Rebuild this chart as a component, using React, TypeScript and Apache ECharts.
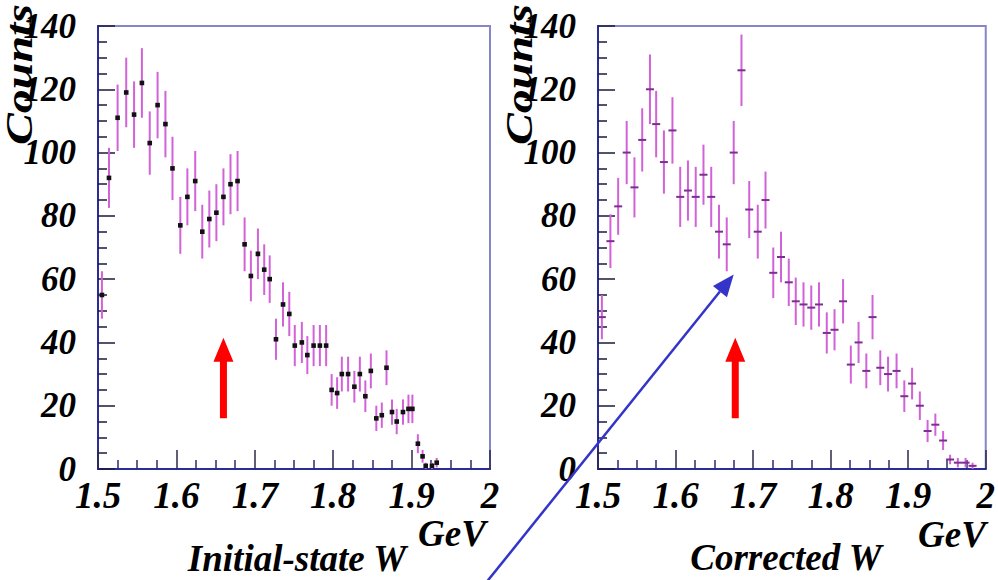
import React, { useEffect, useRef } from "react";
import * as echarts from "echarts";

// Axis tick labels
const X_TICK_LABELS = ["1.5", "1.6", "1.7", "1.8", "1.9", "2"];
const X_MIN = 1.5;
const X_MAX = 2.0;
const X_STEP = 0.1;
const Y_MIN = 0;
const Y_MAX = 140;
const Y_STEP = 20;

// Initial-state W spectrum (GeV, counts, stat. error)
const initialW = [
  1.505, 1.514, 1.525, 1.536, 1.546, 1.556, 1.566, 1.576, 1.586, 1.595,
  1.605, 1.614, 1.624, 1.633, 1.642, 1.651, 1.66, 1.669, 1.678, 1.687,
  1.695, 1.704, 1.712, 1.719, 1.727, 1.736, 1.744, 1.751, 1.76, 1.767,
  1.775, 1.783, 1.791, 1.798, 1.805, 1.811, 1.819, 1.827, 1.834, 1.841,
  1.848, 1.855, 1.862, 1.868, 1.875, 1.881, 1.889, 1.896, 1.901, 1.908,
  1.914, 1.918, 1.926, 1.932,
];
const initialCounts = [
  55, 92, 111, 119, 112, 122, 103, 115, 109, 95,
  77, 86, 91, 75, 79, 81, 86, 90, 91, 71,
  61, 68, 63, 60, 41, 52, 49, 39, 40, 36,
  39, 39, 39, 25, 24, 30, 30, 26, 30, 23,
  31, 16, 17, 32, 18, 15, 18, 19, 19, 8,
  4, 1, 1, 2,
];
const initialErr = [
  7.5, 9.5, 10.5, 11, 10.5, 11, 10, 10.5, 10.5, 10,
  9, 9, 9.5, 8.5, 9, 9, 9, 9.5, 9.5, 8.5,
  8, 8, 8, 7.5, 6.5, 7, 7, 6.5, 6.5, 6,
  6.5, 6.5, 6.5, 5, 5, 5.5, 5.5, 5, 5.5, 5,
  5.5, 4, 4, 5.5, 4, 4, 4, 4.5, 4.5, 3,
  2, 1, 1, 1.5,
];

// Corrected W spectrum (GeV, counts, stat. error)
const correctedW = [
  1.505, 1.516, 1.526, 1.537, 1.547, 1.557, 1.567, 1.575, 1.585, 1.596,
  1.606, 1.616, 1.626, 1.636, 1.646, 1.656, 1.666, 1.675, 1.685, 1.695,
  1.706, 1.716, 1.726, 1.736, 1.746, 1.755, 1.765, 1.775, 1.785, 1.795,
  1.805, 1.816, 1.826, 1.836, 1.846, 1.854, 1.864, 1.874, 1.885, 1.895,
  1.905, 1.915, 1.925, 1.935, 1.945, 1.954, 1.964, 1.974, 1.983,
];
const correctedCounts = [
  48, 72, 83, 100, 89, 104, 120, 109, 97, 107,
  86, 88, 86, 93, 86, 75, 71, 100, 126, 82,
  75, 85, 62, 67, 59, 53, 52, 51, 52, 43,
  44, 53, 33, 40, 31, 48, 32, 30, 31, 23,
  27, 20, 12, 14, 9, 3, 2, 2, 1,
];
const correctedErr = [
  7, 8.5, 9, 10, 9.5, 10, 11, 10.5, 10, 10.5,
  9.5, 9.5, 9.5, 9.5, 9.5, 8.5, 8.5, 10, 11.3, 9,
  8.5, 9, 8, 8, 7.5, 7.5, 7, 7, 7, 6.5,
  6.5, 7, 6, 6.5, 5.5, 7, 5.5, 5.5, 5.5, 5,
  5, 4.5, 3.5, 3.5, 3, 1.5, 1.5, 1.5, 1,
];

// Red arrows marking the W region of interest (GeV; counts of tail and tip)
const redArrowW = [1.66, 1.677];
const redArrowTail = 16;
const redArrowTip = 41.5;

// Blue pointer ends on the dip of the corrected spectrum
const blueArrowTip = [1.675, 61.5];

const SERIF = "'Liberation Serif', 'Times New Roman', serif";
const BAR_COLOR = "#d262d8";

function fmtX(v: number): string {
  const i = Math.round((v - X_MIN) / X_STEP);
  return X_TICK_LABELS[i] ?? "";
}

function errorSeries(
  idx: number,
  w: number[],
  counts: number[],
  err: number[],
  marker: "dot" | "dash"
) {
  return {
    type: "custom",
    xAxisIndex: idx,
    yAxisIndex: idx,
    dimensions: ["w", "n", "e"],
    encode: { x: 0, y: 1 },
    data: w.map((x, i) => [x, counts[i], err[i]]),
    clip: true,
    renderItem: (_p: any, api: any) => {
      const x = api.value(0);
      const y = api.value(1);
      const e = api.value(2);
      const hi = api.coord([x, y + e]);
      const lo = api.coord([x, Math.max(y - e, 0)]);
      const c = api.coord([x, y]);
      const children: any[] = [
        {
          type: "line",
          shape: { x1: hi[0], y1: hi[1], x2: lo[0], y2: lo[1] },
          style: { stroke: BAR_COLOR, lineWidth: 2 },
        },
      ];
      if (marker === "dot") {
        children.push({
          type: "rect",
          shape: { x: c[0] - 2.3, y: c[1] - 2.3, width: 4.6, height: 4.6 },
          style: { fill: "#111111" },
        });
      } else {
        children.push({
          type: "line",
          shape: { x1: c[0] - 4, y1: c[1], x2: c[0] + 4, y2: c[1] },
          style: { stroke: "#7d2d93", lineWidth: 2 },
        });
      }
      return { type: "group", children };
    },
  };
}

function xAxisFor(idx: number) {
  return {
    type: "value",
    gridIndex: idx,
    min: X_MIN,
    max: X_MAX,
    interval: X_STEP,
    axisLine: { show: true, onZero: false, lineStyle: { color: "#2b2b9a", width: 2 } },
    axisTick: { show: true, inside: true, length: 19, lineStyle: { color: "#2a2a50", width: 1.5 } },
    minorTick: { show: true, splitNumber: 4, length: 9, lineStyle: { color: "#2a2a70", width: 1.5 } },
    splitLine: { show: false },
    axisLabel: {
      formatter: fmtX,
      fontFamily: SERIF,
      fontStyle: "italic",
      fontWeight: "bold",
      fontSize: 37,
      color: "#000",
      margin: 8,
      showMinLabel: true,
      showMaxLabel: true,
    },
  };
}

function yAxisFor(idx: number) {
  return {
    type: "value",
    gridIndex: idx,
    min: Y_MIN,
    max: Y_MAX,
    interval: Y_STEP,
    axisLine: { show: true, onZero: false, lineStyle: { color: "#2b2b9a", width: 2 } },
    axisTick: { show: true, inside: true, length: 17, lineStyle: { color: "#1a1a40", width: 1.5 } },
    minorTick: { show: true, splitNumber: 4, length: 9, lineStyle: { color: "#1a1a40", width: 1.5 } },
    splitLine: { show: false },
    axisLabel: {
      fontFamily: SERIF,
      fontStyle: "italic",
      fontWeight: "bold",
      fontSize: 35,
      color: "#000",
      margin: 22,
      showMinLabel: true,
      showMaxLabel: true,
    },
  };
}

function textEl(text: string, x: number, y: number, size: number, extra: any = {}) {
  const { align, ...rest } = extra;
  return {
    type: "text",
    x,
    y,
    z: 10,
    ...rest,
    style: {
      text,
      fill: "#000",
      font: `italic bold ${size}px ${SERIF}`,
      textAlign: align ?? "center",
      textVerticalAlign: "middle",
    },
  };
}

export default function App() {
  const ref = useRef<HTMLDivElement>(null);

  useEffect(() => {
    if (!ref.current) return;
    const chart = echarts.init(ref.current, undefined, { renderer: "svg" });

    chart.setOption({
      animation: false,
      backgroundColor: "#ffffff",
      grid: [
        { left: 98, top: 26, width: 392, height: 443, show: true, borderColor: "#8585c8", borderWidth: 2, backgroundColor: "#fff" },
        { left: 598, top: 26, width: 391, height: 443, show: true, borderColor: "#8585c8", borderWidth: 2, backgroundColor: "#fff" },
      ],
      xAxis: [xAxisFor(0), xAxisFor(1)],
      yAxis: [yAxisFor(0), yAxisFor(1)],
      series: [
        errorSeries(0, initialW, initialCounts, initialErr, "dot"),
        errorSeries(1, correctedW, correctedCounts, correctedErr, "dash"),
      ],
    });

    // Annotations anchored to the data coordinates of each panel
    const graphics: any[] = [];

    redArrowW.forEach((w, gi) => {
      const tail = chart.convertToPixel({ gridIndex: gi } as any, [w, redArrowTail]) as number[];
      const tip = chart.convertToPixel({ gridIndex: gi } as any, [w, redArrowTip]) as number[];
      const x = tail[0];
      const hb = tip[1] + 24;
      graphics.push({
        type: "polygon",
        z: 20,
        shape: {
          points: [
            [x - 3.5, tail[1]],
            [x - 3.5, hb],
            [x - 10, hb],
            [x, tip[1]],
            [x + 10, hb],
            [x + 3.5, hb],
            [x + 3.5, tail[1]],
          ],
        },
        style: { fill: "#ff0000" },
      });
    });

    const bt = chart.convertToPixel({ gridIndex: 1 } as any, blueArrowTip) as number[];
    const dir = [245, -305];
    const dl = Math.hypot(dir[0], dir[1]);
    const ux = dir[0] / dl;
    const uy = dir[1] / dl;
    const H = 580;
    const k = (H + 2 - bt[1]) / -uy;
    const tail = [bt[0] - ux * k, bt[1] - uy * k];
    const headLen = 22;
    const halfW = 9;
    const base = [bt[0] - ux * headLen, bt[1] - uy * headLen];
    graphics.push({
      type: "line",
      z: 30,
      shape: { x1: tail[0], y1: tail[1], x2: base[0], y2: base[1] },
      style: { stroke: "#3434c8", lineWidth: 2.5 },
    });
    graphics.push({
      type: "polygon",
      z: 30,
      shape: {
        points: [
          [bt[0], bt[1]],
          [base[0] + -uy * halfW, base[1] + ux * halfW],
          [base[0] - -uy * halfW, base[1] - ux * halfW],
        ],
      },
      style: { fill: "#3434c8" },
    });

    // Axis titles
    graphics.push(textEl("Counts", 19, 4, 38, { rotation: Math.PI / 2, align: "right", scaleX: 1.26 }));
    graphics.push(textEl("Counts", 519, 4, 38, { rotation: Math.PI / 2, align: "right", scaleX: 1.26 }));
    graphics.push(textEl("GeV", 452, 533, 37));
    graphics.push(textEl("GeV", 952, 534, 37));
    graphics.push(textEl("Initial-state W", 297, 558, 37));
    graphics.push(textEl("Corrected W", 786, 557, 37));

    chart.setOption({ graphic: graphics });

    return () => chart.dispose();
  }, []);

  return (
    <div
      ref={ref}
      style={{ position: "absolute", left: 0, top: 0, width: 998, height: 580 }}
    />
  );
}
